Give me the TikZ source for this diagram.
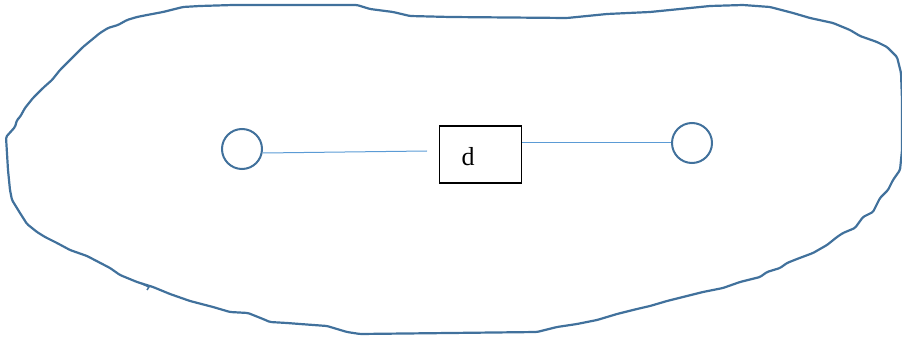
\documentclass[tikz,border=0pt]{standalone}
\usepackage{fontspec}
\setmainfont{Liberation Serif}
\definecolor{outl}{HTML}{41719C}
\definecolor{conn}{HTML}{5B9BD5}
\begin{document}
\begin{tikzpicture}[x=1pt,y=-1pt,
  blob/.style={draw=outl,line width=2.2pt,line join=round,rounded corners=1.5pt},
  port/.style={circle,draw=outl,line width=2pt,minimum size=40pt,inner sep=0pt},
  box/.style={draw=black,line width=1.5pt,minimum width=82pt,minimum height=57pt,inner sep=0pt},
  lbl/.style={inner sep=0pt,font=\fontsize{26}{30}\selectfont},
  link/.style={draw=conn,line width=1pt}]
\useasboundingbox (0,0) rectangle (902,339);
\draw[blob] (6,137) -- (15,127) -- (17,120) -- (20,117) -- (25,108) -- (33,98) -- (43,88) -- (52,80) -- (60,70) -- (70,60) -- (83,47) -- (100,33) -- (108,28) -- (118,25) -- (127,20) -- (137,17) -- (147,15) -- (163,12) -- (183,7) -- (200,6) -- (233,5) -- (300,5) -- (357,5) -- (370,9) -- (393,12) -- (410,16) -- (450,17) -- (567,18) -- (607,14) -- (650,12) -- (710,6) -- (743,5) -- (770,7) -- (793,13) -- (810,18) -- (833,23) -- (850,30) -- (860,36) -- (877,42) -- (887,47) -- (897,57) -- (901,73) -- (902,100) -- (902,150) -- (900,170) -- (893,180) -- (888,190) -- (880,198) -- (873,212) -- (863,217) -- (855,228) -- (843,233) -- (837,237) -- (827,245) -- (813,253) -- (797,259) -- (787,263) -- (780,268) -- (767,272) -- (760,277) -- (740,282) -- (723,288) -- (703,292) -- (683,297) -- (667,301) -- (650,306) -- (637,309) -- (617,314) -- (597,320) -- (577,324) -- (557,327) -- (537,332) -- (450,333) -- (360,334) -- (347,332) -- (327,326) -- (300,324) -- (287,323) -- (270,322) -- (263,319) -- (248,313) -- (230,312) -- (213,307) -- (190,301) -- (170,294) -- (153,287) -- (137,282) -- (120,275) -- (110,268) -- (87,256) -- (70,250) -- (57,243) -- (45,237) -- (37,232) -- (27,224) -- (20,213) -- (12,200) -- (10,190) -- (8,170) -- cycle;
\draw[draw=outl,line width=1.5pt] (140,283) -- (149,287) -- (147,290);
\node[port] (c1) at (242,149) {};
\node[port] (c2) at (692,143) {};
\node[box] (b) at (480.5,154.5) {};
\node[lbl] (d) at (468,157) {d};
\coordinate (lend) at (427,151);
\draw[link] (c1.east |- 0,153) -- (lend);
\draw[link] (b.east |- c2) -- (c2);
\end{tikzpicture}
\end{document}
